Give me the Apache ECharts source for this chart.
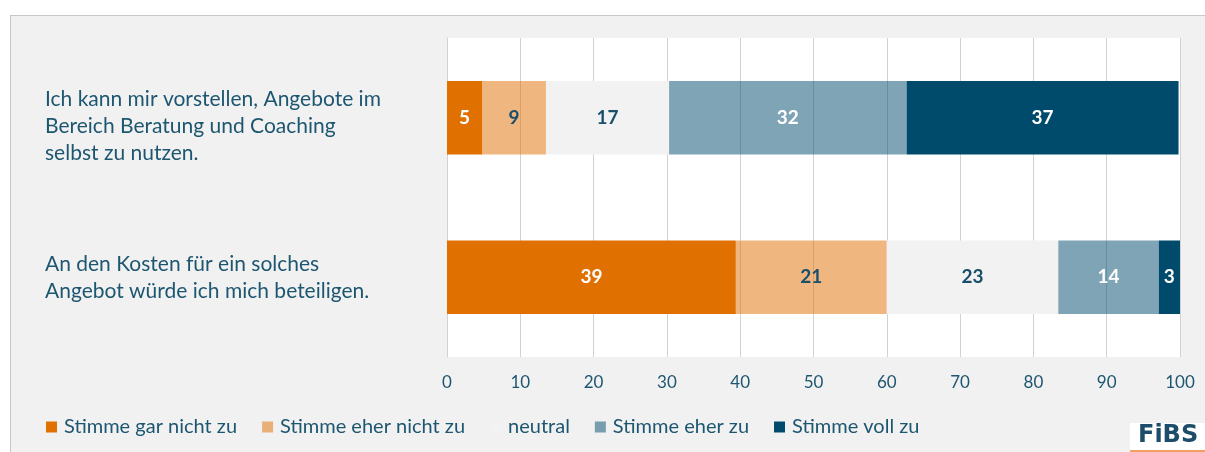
<!DOCTYPE html>
<html>
<head>
<meta charset="utf-8">
<script src="https://cdn.jsdelivr.net/npm/echarts@6/dist/echarts.min.js"></script>
<style>
  html, body { margin: 0; padding: 0; background: #fff; }
  #chart {
    position: absolute; left: 10px; top: 15px;
    width: 1194px; height: 436px;
    border-top: 1px solid #c8c8c8; border-left: 1px solid #c8c8c8;
    background: #f1f1f1;
  }
</style>
</head>
<body>
<div id="chart"></div>
<script>
// Kategorien (Aussagen)
var categories = [
  'Ich kann mir vorstellen, Angebote im\nBereich Beratung und Coaching\nselbst zu nutzen.',
  'An den Kosten für ein solches\nAngebot würde ich mich beteiligen.'
];
// Antwortstufen
var seriesNames = ['Stimme gar nicht zu', 'Stimme eher nicht zu', 'neutral', 'Stimme eher zu', 'Stimme voll zu'];
// Anteile in %
var garNicht  = [4.8, 39.4];
var eherNicht = [8.7, 20.6];
var neutral   = [16.8, 23.4];
var eherZu    = [32.4, 13.7];
var vollZu    = [37.1, 2.9];
var xTicks = [0, 10, 20, 30, 40, 50, 60, 70, 80, 90, 100];

var textColor = '#1d5670';
var fontFam = 'Lato, "Noto Sans", sans-serif';

var colors = ['#e07000', 'rgba(224,112,0,0.5)', '#f2f2f2', 'rgba(0,74,107,0.5)', '#004a6b'];
var labelColors = ['#fff', '#1a4e6b', '#1a4e6b', '#fff', '#fff'];
var values = [garNicht, eherNicht, neutral, eherZu, vollZu];

var series = [];
for (var i = 0; i < seriesNames.length; i++) {
  series.push({
    name: seriesNames[i],
    type: 'bar',
    stack: 'total',
    barWidth: '46%',
    itemStyle: { color: colors[i] },
    label: {
      show: true,
      position: 'inside',
      color: labelColors[i],
      fontFamily: fontFam,
      fontWeight: 'bold',
      fontSize: 19,
      formatter: function (p) { return Math.round(p.value); }
    },
    data: values[i]
  });
}

var chart = echarts.init(document.getElementById('chart'));
var option = {
  backgroundColor: 'transparent',
  animation: false,
  textStyle: { fontFamily: fontFam },
  grid: {
    left: 436, right: 25, top: 22, bottom: 95,
    show: true, backgroundColor: '#fff', borderWidth: 0
  },
  legend: {
    left: 30, top: 396,
    itemWidth: 11, itemHeight: 11, itemGap: 25,
    icon: 'rect',
    textStyle: { color: textColor, fontSize: 20, fontFamily: fontFam, padding: [0, 0, 0, 2] },
    data: seriesNames
  },
  xAxis: {
    type: 'value',
    min: xTicks[0], max: xTicks[xTicks.length - 1], interval: 10,
    axisLine: { show: false },
    axisTick: { show: false },
    splitLine: { lineStyle: { color: '#d2d2d2', width: 1 } },
    axisLabel: { color: textColor, fontSize: 17, margin: 17 }
  },
  yAxis: {
    type: 'category',
    inverse: true,
    data: categories,
    axisLine: { show: true, lineStyle: { color: '#d2d2d2' } },
    axisTick: { show: false },
    axisLabel: {
      color: textColor, fontSize: 21, lineHeight: 27,
      align: 'left', margin: 402,
      formatter: function (v, idx) {
        // erste Aussage sitzt im Original etwas tiefer
        return idx === 0 ? '{s| }\n' + v : v;
      },
      rich: { s: { lineHeight: 16, fontSize: 10 } }
    }
  },
  graphic: [{
    type: 'group', right: 0, bottom: 0,
    children: [
      { type: 'rect', shape: { x: 0, y: 0, width: 75, height: 27 }, style: { fill: '#fff' } },
      { type: 'rect', shape: { x: 0, y: 27, width: 75, height: 2 }, style: { fill: '#f0a060' } },
      { type: 'text', x: 8, y: 1, style: { text: 'FiBS', fill: '#1e4d6b', font: 'bold 24px "DejaVu Sans"' } }
    ]
  }],
  series: series
};
chart.setOption(option);
</script>
</body>
</html>
